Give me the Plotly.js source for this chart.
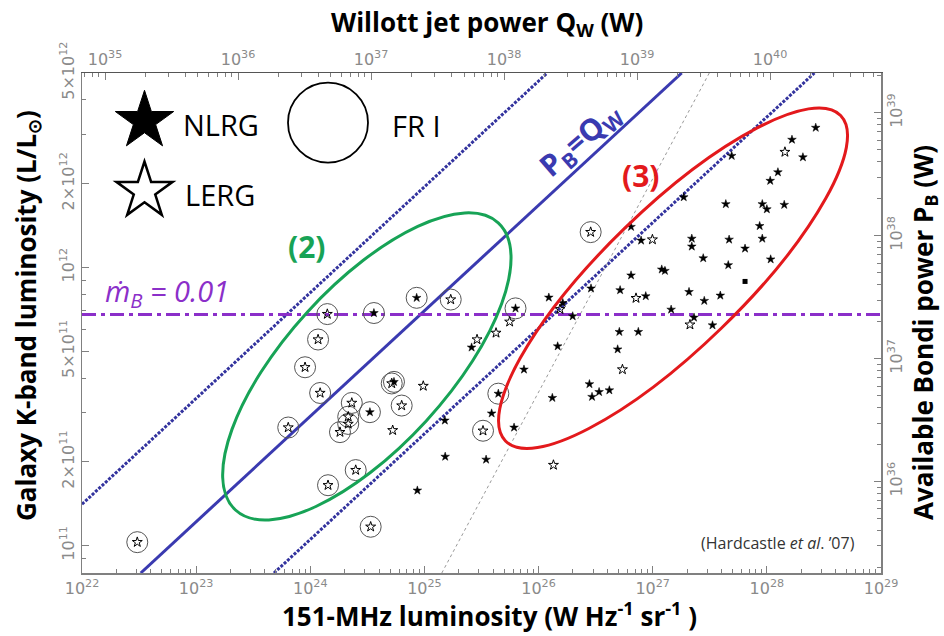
<!DOCTYPE html>
<html><head><meta charset="utf-8">
<script src="https://cdn.plot.ly/plotly-3.0.1.min.js"></script>
<style>html,body{margin:0;padding:0;background:#fff;} #chart{width:944px;height:636px;}</style>
</head><body><div id="chart"></div>
<script>
// ---------------- data ----------------
// 151-MHz luminosity (W Hz^-1 sr^-1) and galaxy K-band luminosity (L/Lsun)
const nlrgL = [2.59e25,1.51e25,1.52e25,3.47e25,8.67e24,3.88e25,7.45e25,6.10e25,1.32e26,1.47e26,
  1.23e26,1.63e26,1.99e26,2.88e26,5.18e26,8.69e26,6.46e26,6.46e26,7.91e26,5.10e26,
  7.48e26,4.93e26,2.79e26,2.94e26,3.39e26,4.17e26,2.68e28,1.66e28,2.07e28,4.92e27,
  1.25e28,1.07e28,1.87e27,4.37e27,9.12e27,1.00e28,1.42e28,8.65e27,9.12e27,2.20e27,
  2.20e27,4.67e27,6.44e27,2.77e27,4.59e27,1.08e28,1.20e27,1.28e27,2.08e27,2.83e27,
  3.91e27,1.45e27,2.30e27,3.34e27];
const nlrgK = [5.16e11,2.82e11,2.09e11,2.04e11,1.58e11,2.99e11,4.30e11,2.66e11,3.40e11,5.21e11,
  7.80e11,7.46e11,6.68e11,8.41e11,8.29e11,7.89e11,9.37e11,1.40e12,1.25e12,5.87e11,
  5.87e11,5.08e11,3.81e11,3.43e11,3.57e11,3.62e11,3.18e12,2.88e12,2.49e12,2.52e12,
  2.20e12,2.05e12,1.79e12,1.69e12,1.69e12,1.62e12,1.68e12,1.41e12,1.27e12,1.27e12,
  1.19e12,1.26e12,1.17e12,1.08e12,1.02e12,1.07e12,9.84e11,9.73e11,8.17e11,7.59e11,
  7.93e11,7.06e11,6.61e11,6.20e11];
const lergL = [9.77e24,5.27e24,2.89e25,4.24e25,5.58e25,1.35e26,1.54e26,7.14e26,9.94e26,5.43e26,2.12e27,1.44e28];
const lergK = [3.75e11,2.60e11,5.51e11,5.82e11,6.38e11,1.95e11,7.08e11,7.76e11,1.26e12,4.30e11,6.23e11,2.60e12];
// FR I objects (circled)
const friLergL = [3.05e22,1.41e24,1.70e25,1.17e24,9.0e23,1.22e24,6.41e23,2.31e24,2.15e24,2.15e24,1.82e24,5.17e24,6.32e24,2.50e24,1.43e24,3.38e24,3.26e25,2.86e26];
const friLergK = [1.03e11,6.80e11,7.67e11,5.51e11,4.38e11,3.54e11,2.66e11,3.26e11,2.91e11,2.74e11,2.56e11,3.83e11,3.19e11,1.87e11,1.65e11,1.17e11,2.59e11,1.34e12];
const friNlrgL = [3.61e24,8.55e24,6.28e25,3.33e24,5.41e24,4.44e25];
const friNlrgK = [6.86e11,7.78e11,7.13e11,3.02e11,3.88e11,3.52e11];
const otherL = [6.44e27];
const otherK = [8.91e11];

// reference lines (end points)
const eqLineL = [3.27e22, 1.795e27],  eqLineK = [7.98e10, 5.0e12];    // P_B = Q_W
const upLineL = [1.0e22, 1.19e26],    upLineK = [1.41e11, 5.0e12];    // P_B = 10 Q_W
const loLineL = [4.81e23, 2.61e28],   loLineK = [7.98e10, 5.0e12];    // P_B = 0.1 Q_W
const frLineL = [1.42e25, 3.13e27],   frLineK = [7.98e10, 5.0e12];    // grey dotted
const mdotL = [1e22, 1e29],           mdotK = [6.78e11, 6.78e11];     // mdot_B = 0.01

// region ellipses: centre (data values) and conjugate half axes (dex in L, dex in K)
const ell2Centre = [3.13e24, 4.41e11], ell2U = [1.151, 0.516], ell2V = [-0.520, 0.196];
const ell3Centre = [1.507e27, 9.15e11], ell3U = [1.468, 0.585], ell3V = [-0.425, 0.179];

// axis ticks
const xDecades = [22,23,24,25,26,27,28,29];
const qDecades = [35,36,37,38,39,40];
const pDecades = [36,37,38,39];
const kTickVals = [1e11,2e11,5e11,1e12,2e12,5e12];
const kTickText = ['10<sup>11</sup>','2×10<sup>11</sup>','5×10<sup>11</sup>','10<sup>12</sup>','2×10<sup>12</sup>','5×10<sup>12</sup>'];
const kMinor = [8e10,9e10,3e11,4e11,6e11,7e11,8e11,9e11,3e12,4e12];

// ---------------- helpers ----------------
function minorLog(lo, hi) {
  const out = [];
  for (let n = Math.floor(lo); n <= Math.ceil(hi); n++)
    for (let m = 2; m <= 9; m++) { const v = m * Math.pow(10, n); const l = Math.log10(v); if (l > lo && l < hi) out.push(v); }
  return out;
}
function decText(d) { return d.map(n => '10<sup>' + n + '</sup>'); }
function decVals(d) { return d.map(n => Math.pow(10, n)); }
function fmt(p) { return Math.pow(10, p[0]).toExponential(6) + ',' + Math.pow(10, p[1]).toExponential(6); }
function ellipsePath(c, u, v) {
  const k = 0.5522847;
  const cl = [Math.log10(c[0]), Math.log10(c[1])];
  const P = (a, b) => [cl[0] + a*u[0] + b*v[0], cl[1] + a*u[1] + b*v[1]];
  const s = [[1,0],[0,1],[-1,0],[0,-1]];
  let d = 'M' + fmt(P(1,0));
  for (let i = 0; i < 4; i++) {
    const [a0,b0] = s[i], [a1,b1] = s[(i+1)%4];
    d += ' C' + fmt(P(a0 + k*a1, b0 + k*b1)) + ' ' + fmt(P(a1 + k*a0, b1 + k*b0)) + ' ' + fmt(P(a1, b1));
  }
  return d + ' Z';
}
function starPath(R) {
  const r = R * 0.382; let d = '';
  for (let i = 0; i < 10; i++) {
    const ang = Math.PI/2 + i*Math.PI/5, rad = i % 2 ? r : R;
    d += (i ? ' L' : 'M') + (rad*Math.cos(ang)).toFixed(2) + ',' + (rad*Math.sin(ang)).toFixed(2);
  }
  return d + ' Z';
}

const BLUE = '#3a3ab0', GREY = '#808080';
const XR = [22, 29], YR = [10.902, 12.699], X2R = [34.827, 40.834], Y2R = [35.257, 39.325];
const pw = 799, ph = 500, ml = 82, mt = 73;
const px = x => (x - ml) / pw, py = y => (mt + ph - y) / ph;

const traces = [
  {x: upLineL, y: upLineK, mode: 'lines', line: {color: '#33339e', width: 3, dash: '3px,1.5px'}},
  {x: loLineL, y: loLineK, mode: 'lines', line: {color: '#33339e', width: 3, dash: '3px,1.5px'}},
  {x: eqLineL, y: eqLineK, mode: 'lines', line: {color: BLUE, width: 3}},
  {x: frLineL, y: frLineK, mode: 'lines', line: {color: '#9a9a9a', width: 1, dash: 'dot'}},
  {x: mdotL, y: mdotK, mode: 'lines', line: {color: '#8b2fc9', width: 3, dash: '14px,5px,4px,5px'}},
  {x: friLergL.concat(friNlrgL), y: friLergK.concat(friNlrgK), mode: 'markers',
   marker: {symbol: 'circle-open', size: 21, color: '#555', line: {width: 1, color: '#555'}}},
  {x: nlrgL.concat(friNlrgL), y: nlrgK.concat(friNlrgK), mode: 'markers',
   marker: {symbol: 'star', size: 6.5, color: '#000', line: {width: 0.5, color: '#000'}}},
  {x: lergL.concat(friLergL), y: lergK.concat(friLergK), mode: 'markers',
   marker: {symbol: 'star-open', size: 7.5, color: '#000', line: {width: 1, color: '#000'}}},
  {x: otherL, y: otherK, mode: 'markers', marker: {symbol: 'square', size: 5, color: '#000'}},
  {x: [], y: [], xaxis: 'x2', yaxis: 'y2', mode: 'markers'}
];

const tickFont = {family: 'DejaVu Sans', size: 16, color: '#8a8a8a'};
const axBase = {type: 'log', showgrid: false, zeroline: false, showline: true, linecolor: GREY, linewidth: 1.5,
  ticks: 'inside', ticklen: 7, tickwidth: 1, tickcolor: GREY, tickfont: tickFont, tickmode: 'array'};

const titleFont = {family: 'Open Sans', size: 26, color: '#000', weight: 'bold'};
const annotations = [
  {text: '<b>Willott jet power Q<sub>W</sub> (W)</b>', x: px(487), y: py(23)},
  {text: '<b>151-MHz luminosity (W Hz<sup>-1</sup> sr<sup>-1</sup> )</b>', x: px(489), y: py(615)},
  {text: '<b>Galaxy K-band luminosity (L/L<sub>⊙</sub>)</b>', x: px(27), y: py(316), textangle: -90},
  {text: '<b>Available Bondi power P<sub>B</sub> (W)</b>', x: px(924), y: py(333), textangle: -90},
].map(a => Object.assign({xref: 'paper', yref: 'paper', showarrow: false, xanchor: 'center', yanchor: 'middle', font: titleFont}, a));

annotations.push(
  {text: 'NLRG', x: px(181), y: py(124), xanchor: 'left', font: {family: 'Open Sans', size: 29, color: '#000'}},
  {text: 'LERG', x: px(183), y: py(194), xanchor: 'left', font: {family: 'Open Sans', size: 29, color: '#000'}},
  {text: 'FR I', x: px(390), y: py(125), xanchor: 'left', font: {family: 'Open Sans', size: 29, color: '#000'}},
  {text: '<b>(2)</b>', x: px(307), y: py(246), font: {family: 'Open Sans', size: 30, color: '#17a356'}},
  {text: '<b>(3)</b>', x: px(641), y: py(175), font: {family: 'Open Sans', size: 30, color: '#e3191c'}},
  {text: '<b>P<sub>B</sub>=Q<sub>W</sub></b>', x: px(580), y: py(140), textangle: -41, font: {family: 'Open Sans', size: 30, color: BLUE}},
  {text: '<i>ṁ<sub>B</sub> = 0.01</i>', x: px(167), y: py(292), font: {family: 'Open Sans', size: 29, color: '#8b2fc9'}},
  {text: '(Hardcastle <i>et al</i>. ’07)', x: px(778), y: py(543), font: {family: 'Open Sans', size: 16, color: '#333'}}
);
annotations.forEach((a, i) => { if (i >= 4) Object.assign(a, Object.assign({xref: 'paper', yref: 'paper', showarrow: false, yanchor: 'middle'}, a, {xanchor: a.xanchor || 'center'})); });

const shapes = [
  {type: 'path', xref: 'x', yref: 'y', path: ellipsePath(ell2Centre, ell2U, ell2V), line: {color: '#17a356', width: 3}},
  {type: 'path', xref: 'x', yref: 'y', path: ellipsePath(ell3Centre, ell3U, ell3V), line: {color: '#e3191c', width: 3}},
  {type: 'path', xref: 'paper', yref: 'paper', xsizemode: 'pixel', ysizemode: 'pixel', xanchor: px(144.5), yanchor: py(121),
   path: starPath(30.7), fillcolor: '#000', line: {color: '#000', width: 1}},
  {type: 'path', xref: 'paper', yref: 'paper', xsizemode: 'pixel', ysizemode: 'pixel', xanchor: px(144.5), yanchor: py(191),
   path: starPath(29.5), fillcolor: 'rgba(0,0,0,0)', line: {color: '#000', width: 2.5}},
  {type: 'circle', xref: 'paper', yref: 'paper', xsizemode: 'pixel', ysizemode: 'pixel', xanchor: px(328), yanchor: py(122.7),
   x0: -40, x1: 40, y0: -40, y1: 40, line: {color: '#000', width: 1.8}}
];

const layout = {
  width: 944, height: 636, margin: {l: ml, r: 944 - ml - pw, t: mt, b: 636 - mt - ph, pad: 0},
  paper_bgcolor: '#fff', plot_bgcolor: '#fff', showlegend: false,
  xaxis: Object.assign({}, axBase, {range: XR, tickvals: decVals(xDecades), ticktext: decText(xDecades),
    minor: {tickmode: 'array', tickvals: minorLog(XR[0], XR[1]), ticks: 'inside', ticklen: 4, tickcolor: GREY, tickwidth: 1}}),
  yaxis: Object.assign({}, axBase, {range: YR, tickvals: kTickVals, ticktext: kTickText, tickangle: -90,
    minor: {tickmode: 'array', tickvals: kMinor, ticks: 'inside', ticklen: 4, tickcolor: GREY, tickwidth: 1}}),
  xaxis2: Object.assign({}, axBase, {range: X2R, overlaying: 'x', side: 'top', anchor: 'y', linecolor: '#555',
    tickvals: decVals(qDecades), ticktext: decText(qDecades),
    minor: {tickmode: 'array', tickvals: minorLog(X2R[0], X2R[1]), ticks: 'inside', ticklen: 4, tickcolor: GREY, tickwidth: 1}}),
  yaxis2: Object.assign({}, axBase, {range: Y2R, overlaying: 'y', side: 'right', anchor: 'x', tickangle: -90,
    tickvals: decVals(pDecades), ticktext: decText(pDecades),
    minor: {tickmode: 'array', tickvals: minorLog(Y2R[0], Y2R[1]), ticks: 'inside', ticklen: 4, tickcolor: GREY, tickwidth: 1}}),
  annotations: annotations, shapes: shapes
};

Plotly.newPlot('chart', traces, layout, {staticPlot: true, displayModeBar: false});
</script></body></html>
